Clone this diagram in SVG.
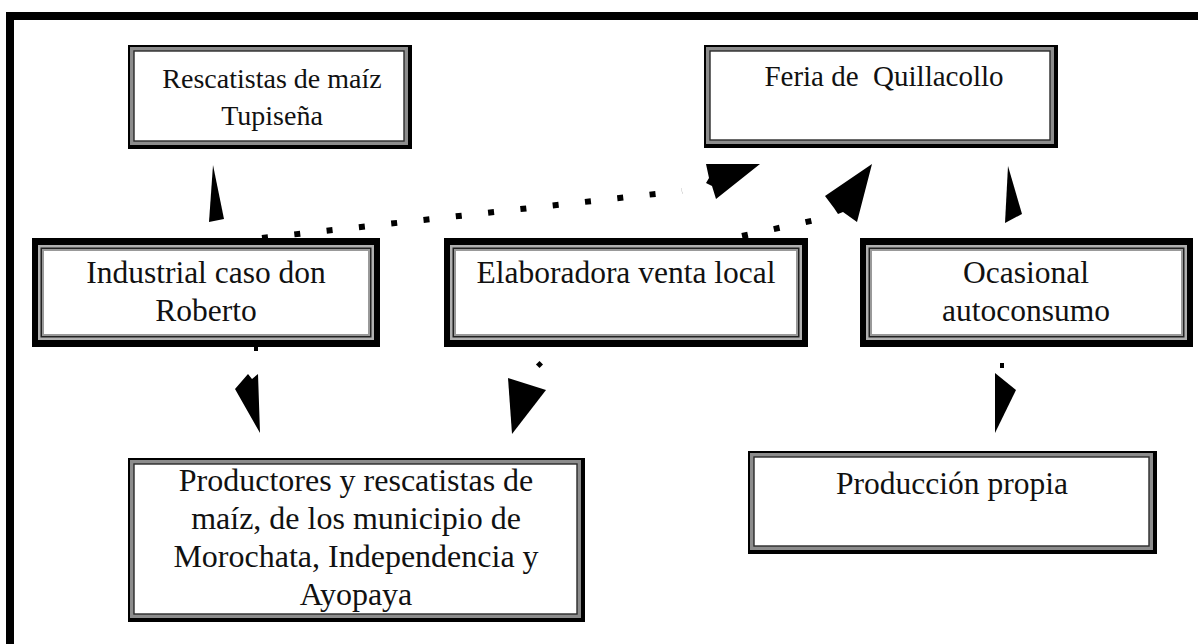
<svg xmlns="http://www.w3.org/2000/svg" width="1198" height="644" viewBox="0 0 1198 644">
<defs>
<style>
.t{font-family:"Liberation Serif","Times New Roman",serif;font-size:31.5px;fill:#111;text-anchor:middle}
.s28{font-size:28px}
.s29{font-size:29px}
.s32{font-size:32px}
.dot{fill:none;stroke:#000;stroke-width:6;stroke-dasharray:6 26.5}
.ah{fill:#000}
.ob{fill:#000}
.g1{fill:#8c8c8c}
.in{fill:#fff;stroke:#2a2a2a;stroke-width:1.4}
.lg{fill:#b0b0b0}
.dk{fill:#222}
.g2{fill:#999}
</style>
</defs>
<rect width="1198" height="644" fill="#fff"/>
<g id="frame">
<rect x="6" y="12" width="1192" height="8" fill="#000"/>
<rect x="6" y="12" width="8" height="632" fill="#000"/>
</g>
<g id="connectors">
<path class="dot" d="M262,238 L682,191"/>
<path class="dot" d="M742,236 L820,219"/>
<polygon class="ah" points="213,165 224,219 209,222"/>
<polygon class="ah" points="706,164 760,164 716,199 712,186 706,183 709,178"/>
<polygon class="ah" points="872,164 857,222 843,212 838,214 834,208 825,196"/>
<polygon class="ah" points="1008,166 1022,214 1005,223"/>
<rect x="254" y="347" width="4" height="4" fill="#000"/>
<polygon class="ah" points="235,389 248,374 252,379 258,374 260,433"/>
<circle cx="558" cy="337" r="2.5" fill="#000"/>
<rect x="537" y="362" width="5" height="5" fill="#000" transform="rotate(45 539.5 364.5)"/>
<polygon class="ah" points="508,378 546,390 512,434"/>
<circle cx="995" cy="334" r="2" fill="#000"/>
<rect x="1000" y="363" width="4" height="5" fill="#000"/>
<polygon class="ah" points="995,373 1016,390 995,433"/>
</g>
<g id="n-rescatistas">
<rect class="ob" x="128" y="45" width="284" height="104"/>
<rect class="g1" x="130" y="47" width="278" height="98"/>
<rect class="in" x="134" y="51" width="270" height="90"/>
<text class="t s28" x="272" y="88">Rescatistas de maíz</text>
<text class="t s28" x="272" y="125">Tupiseña</text>
</g>
<g id="n-feria">
<rect class="ob" x="704" y="45" width="354" height="103"/>
<rect class="g1" x="706" y="47" width="348" height="97"/>
<rect class="in" x="710" y="51" width="340" height="89"/>
<text class="t s29" x="884" y="86" xml:space="preserve">Feria de  Quillacollo</text>
</g>
<g id="n-industrial">
<rect class="ob" x="32" y="238" width="348" height="109"/>
<rect class="lg" x="38" y="245" width="336" height="95"/>
<rect class="dk" x="40.5" y="247.5" width="331" height="90"/>
<rect class="g2" x="42" y="249" width="328" height="87"/>
<rect fill="#fff" x="44" y="251" width="324" height="83"/>
<text class="t" x="206" y="283">Industrial caso don</text>
<text class="t" x="206" y="321">Roberto</text>
</g>
<g id="n-elaboradora">
<rect class="ob" x="444" y="238" width="364" height="109"/>
<rect class="lg" x="450" y="245" width="352" height="95"/>
<rect class="dk" x="452.5" y="247.5" width="347" height="90"/>
<rect class="g2" x="454" y="249" width="344" height="87"/>
<rect fill="#fff" x="456" y="251" width="340" height="83"/>
<text class="t" x="626" y="283">Elaboradora venta local</text>
</g>
<g id="n-ocasional">
<rect class="ob" x="860" y="238" width="333" height="109"/>
<rect class="lg" x="866" y="245" width="321" height="95"/>
<rect class="dk" x="868.5" y="247.5" width="316" height="90"/>
<rect class="g2" x="870" y="249" width="313" height="87"/>
<rect fill="#fff" x="872" y="251" width="309" height="83"/>
<text class="t" x="1026" y="283">Ocasional</text>
<text class="t" x="1026" y="321">autoconsumo</text>
</g>
<g id="n-productores">
<rect class="ob" x="128" y="458" width="457" height="164"/>
<rect class="g1" x="130" y="460" width="451" height="158"/>
<rect class="in" x="134" y="464" width="443" height="150"/>
<text class="t s32" x="356" y="491">Productores y rescatistas de</text>
<text class="t s32" x="356" y="529">maíz, de los municipio de</text>
<text class="t s32" x="356" y="567">Morochata, Independencia y</text>
<text class="t s32" x="356" y="605">Ayopaya</text>
</g>
<g id="n-produccion">
<rect class="ob" x="748" y="451" width="409" height="103"/>
<rect class="g1" x="750" y="453" width="403" height="97"/>
<rect class="in" x="754" y="457" width="395" height="89"/>
<text class="t" x="952" y="494">Producción propia</text>
</g>
</svg>
